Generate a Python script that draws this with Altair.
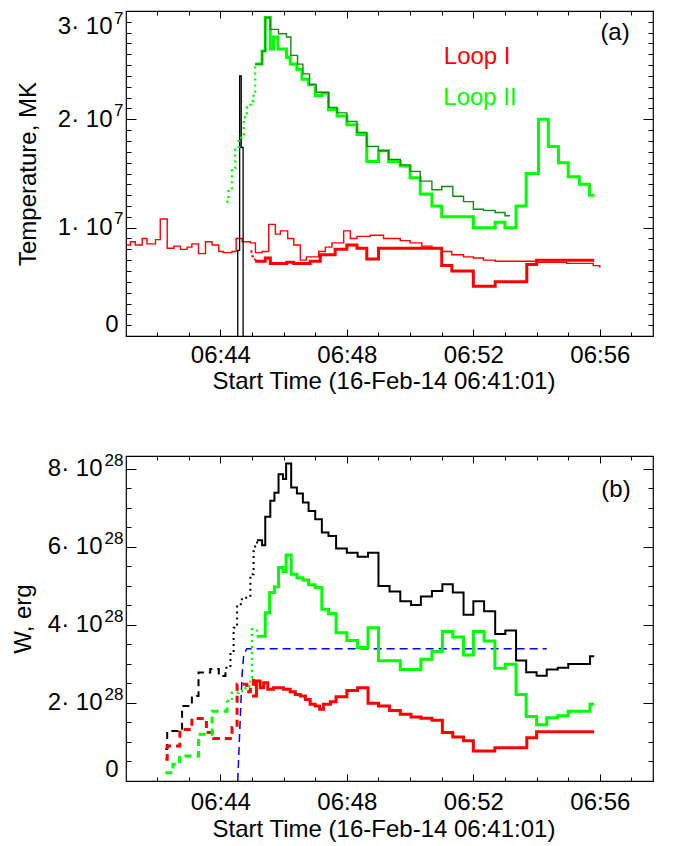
import altair as alt
import pandas as pd
from itertools import zip_longest

FONT = "Liberation Sans"
FS = 24
FS_EXP = 17

# ---------------- axes / ticks ----------------
X_DOMAIN = [41.017, 57.68]          # minutes after 06:00
X_MAJOR = [44, 48, 52, 56]
X_MINOR = [42, 43, 45, 46, 47, 49, 50, 51, 53, 54, 55, 57]
X_TITLE = "Start Time (16-Feb-14 06:41:01)"

A_Y_DOMAIN = [0, 3]                  # units of 1e7
A_Y_MAJOR = [0, 1, 2, 3]
A_Y_MINOR = [0.1, 0.2, 0.3, 0.4, 0.5, 0.6, 0.7, 0.8, 0.9,
             1.1, 1.2, 1.3, 1.4, 1.5, 1.6, 1.7, 1.8, 1.9,
             2.1, 2.2, 2.3, 2.4, 2.5, 2.6, 2.7, 2.8, 2.9]
A_Y_EXP = "7"
A_Y_TITLE = "Temperature, MK"
B_Y_DOMAIN = [0, 8.33]               # units of 1e28
B_Y_MAJOR = [0, 2, 4, 6, 8]
B_Y_MINOR = [0.5, 1, 1.5, 2.5, 3, 3.5, 4.5, 5, 5.5, 6.5, 7, 7.5]
B_Y_EXP = "28"
B_Y_TITLE = "W, erg"

# ---------------- panel (a) data ----------------
A_RED_THIN_T = [41.05, 41.16, 41.31, 41.53, 41.68, 41.95, 42.10, 42.32, 42.53, 42.74,
                42.95, 43.10, 43.31, 43.53, 43.74, 43.95, 44.10, 44.37, 44.50, 44.69,
                44.95, 45.11, 45.32, 45.53, 45.74, 45.90, 46.13, 46.32, 46.53, 46.72,
                47.11, 47.32, 47.53, 47.90, 48.11, 48.32, 48.74, 49.16, 49.69, 50.00,
                50.37, 50.69, 51.00, 51.32, 51.69, 52.00, 52.32, 52.69, 54.00, 54.32,
                54.95, 55.37, 55.79, 56.00]
A_RED_THIN_V = [0.84, 0.87, 0.84, 0.90, 0.85, 0.89, 1.08, 0.81, 0.83, 0.80,
                0.82, 0.85, 0.76, 0.87, 0.84, 0.78, 0.77, 0.78, 0.90, 0.87,
                0.86, 0.77, 0.78, 1.03, 0.94, 0.97, 0.90, 0.84, 0.70, 0.73,
                0.78, 0.82, 0.86, 0.97, 0.90, 0.92, 0.93, 0.90, 0.88, 0.86,
                0.83, 0.81, 0.78, 0.75, 0.73, 0.72, 0.70, 0.69, 0.68, 0.68,
                0.67, 0.67, 0.65, 0.63]

A_RED_DOT_T = [44.95, 45.02, 45.10]
A_RED_DOT_V = [0.78, 0.72, 0.70]
A_RED_T = [45.10, 45.42, 45.58, 46.10, 46.32, 46.84, 47.16, 47.63, 48.00, 48.32,
           48.63, 49.00, 51.00, 51.32, 52.00, 52.69, 53.69, 54.00, 55.82]
A_RED_V = [0.69, 0.72, 0.67, 0.68, 0.67, 0.69, 0.75, 0.80, 0.84, 0.81,
           0.71, 0.81, 0.65, 0.60, 0.46, 0.50, 0.66, 0.70, 0.70]

A_GREEN_DOT_T = [44.19, 44.26, 44.37, 44.47, 44.58, 44.74, 44.84, 44.95, 45.05, 45.10]
A_GREEN_DOT_V = [1.24, 1.35, 1.55, 1.72, 1.83, 2.02, 2.11, 2.17, 2.23, 2.51]
A_GREEN_T = [45.10, 45.32, 45.42, 45.58, 45.68, 45.82, 46.09, 46.21, 46.42, 46.58,
             46.79, 47.00, 47.21, 47.42, 47.69, 48.00, 48.32, 48.63, 49.00, 49.32,
             49.69, 50.00, 50.32, 50.69, 51.00, 52.00, 52.69, 53.00, 53.35, 53.67,
             54.06, 54.37, 54.69, 55.00, 55.35, 55.67, 55.83]
A_GREEN_V = [2.51, 2.63, 2.94, 2.65, 2.76, 2.65, 2.57, 2.51, 2.46, 2.37,
             2.32, 2.22, 2.24, 2.09, 2.03, 1.95, 1.86, 1.61, 1.71, 1.61,
             1.57, 1.46, 1.31, 1.20, 1.10, 1.00, 1.05, 1.00, 1.20, 1.50,
             2.00, 1.75, 1.60, 1.47, 1.40, 1.30, 1.30]

A_DKGREEN_T = [45.10, 45.32, 45.42, 45.58, 45.84, 46.09, 46.23, 46.44, 46.61, 46.82,
               47.03, 47.42, 47.69, 48.00, 48.32, 48.63, 49.00, 49.32, 49.69, 50.00,
               50.32, 50.69, 51.00, 51.35, 51.69, 52.00, 52.32, 52.69, 53.00, 53.16]
A_DKGREEN_V = [2.51, 2.63, 2.94, 2.83, 2.79, 2.76, 2.59, 2.51, 2.42, 2.32,
               2.25, 2.11, 2.06, 1.98, 1.88, 1.75, 1.71, 1.63, 1.58, 1.52,
               1.43, 1.35, 1.38, 1.29, 1.24, 1.17, 1.16, 1.14, 1.11, 1.11]

A_BLACK_T = [44.55, 44.55, 44.61, 44.61, 44.66, 44.66, 44.72, 44.72]
A_BLACK_V = [0.00, 0.79, 0.79, 2.40, 2.40, 1.74, 1.74, 0.00]

A_TEXT = ["(a)", "Loop I", "Loop II"]
A_TEXT_T = [56.48, 52.12, 52.21]
A_TEXT_V = [2.80, 2.58, 2.20]
A_TEXT_C = ["black", "#ff0000", "#00ff00"]

# ---------------- panel (b) data ----------------
B_BLACK_DASH_T = [42.26, 42.32, 42.79, 43.10, 43.31, 43.68, 43.95, 44.16]
B_BLACK_DASH_V = [0.82, 1.28, 1.92, 2.18, 2.78, 2.87, 2.69, 2.90]
B_BLACK_DOT_T = [44.16, 44.32, 44.42, 44.53, 44.68, 44.95, 45.05, 45.10, 45.16]
B_BLACK_DOT_V = [2.90, 3.33, 3.93, 4.53, 4.70, 5.30, 5.89, 6.07, 6.17]
B_BLACK_T = [45.16, 45.32, 45.42, 45.58, 45.71, 45.84, 45.98, 46.08, 46.24, 46.42,
             46.61, 46.79, 47.00, 47.21, 47.42, 47.66, 48.00, 48.34, 48.67, 49.00,
             49.35, 49.69, 50.03, 50.34, 50.69, 51.02, 51.35, 51.69, 52.00, 52.34,
             52.69, 53.01, 53.35, 53.67, 54.00, 54.32, 54.67, 55.00, 55.69, 55.82]
B_BLACK_V = [6.17, 6.04, 6.77, 7.18, 7.39, 7.86, 7.74, 8.14, 7.52, 7.37,
             7.14, 6.92, 6.71, 6.37, 6.28, 5.96, 5.85, 5.75, 5.85, 5.00,
             4.86, 4.61, 4.51, 4.73, 4.87, 5.04, 4.83, 4.26, 4.61, 4.35,
             3.77, 3.86, 3.09, 2.79, 2.70, 2.86, 2.90, 3.00, 3.20, 3.20]

B_GREEN_DASH_T = [42.26, 42.50, 42.71, 43.31, 43.74, 44.21]
B_GREEN_DASH_V = [0.21, 0.43, 0.64, 1.20, 1.79, 2.05]
B_GREEN_DOT_T = [44.21, 44.37, 44.58, 44.79, 44.95, 45.00, 45.16]
B_GREEN_DOT_V = [2.05, 2.26, 2.30, 2.43, 2.65, 3.89, 3.71]
B_GREEN_T = [45.16, 45.42, 45.56, 45.71, 45.84, 45.98, 46.08, 46.24, 46.42, 46.61,
             46.79, 47.00, 47.21, 47.42, 47.66, 48.00, 48.34, 48.67, 49.00, 49.69,
             50.34, 50.69, 51.02, 51.35, 51.69, 52.00, 52.34, 52.68, 53.01, 53.35,
             53.67, 54.00, 54.32, 54.67, 55.00, 55.69, 55.82]
B_GREEN_V = [3.71, 4.31, 4.83, 4.98, 5.47, 5.37, 5.79, 5.30, 5.21, 5.15,
             5.03, 4.96, 4.40, 4.29, 3.80, 3.60, 3.42, 3.93, 3.08, 2.86,
             3.12, 3.32, 3.83, 3.69, 3.23, 3.83, 3.59, 2.89, 2.99, 2.22,
             1.65, 1.44, 1.62, 1.67, 1.79, 1.97, 1.97]

B_RED_DASH_T = [42.26, 42.32, 42.72, 43.10, 43.56, 43.79, 44.37, 44.53, 44.84, 44.95, 45.05, 45.10]
B_RED_DASH_V = [0.56, 0.90, 1.32, 1.60, 1.24, 1.09, 1.37, 2.48, 2.29, 2.48, 2.69, 2.69]
B_RED_T = [45.00, 45.14, 45.26, 45.37, 45.50, 45.68, 46.00, 46.21, 46.37, 46.53,
           46.69, 46.84, 47.00, 47.14, 47.26, 47.48, 47.66, 48.00, 48.34, 48.67,
           49.00, 49.35, 49.69, 50.03, 50.34, 50.69, 51.02, 51.35, 51.69, 52.00,
           52.68, 53.69, 54.00, 55.82]
B_RED_V = [2.18, 2.56, 2.39, 2.52, 2.35, 2.39, 2.35, 2.29, 2.22, 2.18,
           2.09, 1.97, 1.92, 1.84, 1.97, 2.03, 2.16, 2.32, 2.39, 1.99,
           1.92, 1.81, 1.71, 1.64, 1.61, 1.56, 1.24, 1.13, 1.03, 0.77,
           0.85, 1.11, 1.26, 1.26]

B_BLUE_T = [44.55, 44.63, 44.69, 44.74, 44.84, 54.32]
B_BLUE_V = [0.00, 1.62, 2.74, 3.25, 3.39, 3.39]

B_TEXT = ["(b)"]
B_TEXT_T = [56.51]
B_TEXT_V = [7.46]
B_TEXT_C = ["black"]

# ---------------- helpers ----------------
W, H = 527, 325
XS = alt.Scale(domain=X_DOMAIN, nice=False, zero=False)
YS_A = alt.Scale(domain=A_Y_DOMAIN, nice=False, zero=False)
YS_B = alt.Scale(domain=B_Y_DOMAIN, nice=False, zero=False)

DASH = [7, 5]
DOT = [2, 4]


def line(t, v, color, width, ys, dash=None, interp="step-after"):
    df = pd.DataFrame({"t": t, "v": v, "i": list(range(len(t)))})
    kw = dict(color=color, strokeWidth=width, interpolate=interp, clip=True)
    if dash is not None:
        kw["strokeDash"] = dash
    return alt.Chart(df).mark_line(**kw).encode(
        x=alt.X("t:Q", scale=XS, axis=None),
        y=alt.Y("v:Q", scale=ys, axis=None),
        order="i:Q",
    )


def texts(labels, t, v, colors, ys):
    df = pd.DataFrame({"t": t, "v": v, "txt": labels, "c": colors})
    return alt.Chart(df).mark_text(font=FONT, fontSize=24, align="center", baseline="middle").encode(
        x=alt.X("t:Q", scale=XS, axis=None),
        y=alt.Y("v:Q", scale=ys, axis=None),
        text="txt:N",
        color=alt.Color("c:N", scale=None),
    )


TK = dict(labels=False, domain=False, grid=False, title=None,
          tickColor="black", tickWidth=1, minExtent=0)
NOTK = dict(ticks=False, tickSize=0, domain=False, grid=False, minExtent=0)


def axis_layers(ys, y_major, y_minor, exp, ytitle, ytitle_pad, base_pad,
                xlab_pad, xtitle_pad, exp_off, top_special):
    top = y_major[-1]
    mids = [v for v in y_major if v != 0 and (v != top or not top_special)]
    x_axes = [
        alt.Axis(orient="bottom", values=X_MAJOR, labelExpr="'06:' + datum.value",
                 labelPadding=xlab_pad, title=X_TITLE, titlePadding=xtitle_pad,
                 titleX=W / 2 - 6, **NOTK),
        alt.Axis(orient="bottom", values=X_MAJOR, tickSize=7, offset=-7, **TK),
        alt.Axis(orient="bottom", values=X_MINOR, tickSize=4, offset=-4, **TK),
        alt.Axis(orient="top", values=X_MAJOR, tickSize=7, offset=-7, **TK),
        alt.Axis(orient="top", values=X_MINOR, tickSize=4, offset=-4, **TK),
    ]
    y_axes = [
        alt.Axis(orient="left", values=[0], labelExpr="'0'", labelPadding=8,
                 labelBaseline="bottom", title=None, **NOTK),
        alt.Axis(orient="left", values=mids, labelExpr="datum.value + '\u00b7 10'",
                 labelPadding=base_pad, title=ytitle, titlePadding=ytitle_pad, **NOTK),
        alt.Axis(orient="left", values=mids, labelExpr="'" + exp + "'", labelPadding=3,
                 labelFontSize=FS_EXP, labelOffset=exp_off, title=None, **NOTK),
        alt.Axis(orient="left", values=y_major, tickSize=10, offset=-10, **TK),
        alt.Axis(orient="left", values=y_minor, tickSize=5, offset=-5, **TK),
        alt.Axis(orient="right", values=y_major, tickSize=10, offset=-10, **TK),
        alt.Axis(orient="right", values=y_minor, tickSize=5, offset=-5, **TK),
    ]
    if top_special:
        y_axes += [
            alt.Axis(orient="left", values=[top], labelExpr="datum.value + '\u00b7 10'",
                     labelPadding=base_pad, labelBaseline="top", labelOffset=3,
                     title=None, **NOTK),
            alt.Axis(orient="left", values=[top], labelExpr="'" + exp + "'", labelPadding=3,
                     labelFontSize=FS_EXP, labelBaseline="top", labelOffset=-1,
                     title=None, **NOTK),
        ]
    dummy = pd.DataFrame({"t": [X_DOMAIN[0]], "v": [0.0]})
    out = []
    for xa, ya in zip_longest(x_axes, y_axes):
        out.append(alt.Chart(dummy).mark_point(opacity=0, size=1).encode(
            x=alt.X("t:Q", scale=XS, axis=xa),
            y=alt.Y("v:Q", scale=ys, axis=ya),
        ))
    return out


# ---------------- panel (a) ----------------
layers_a = [
    line(A_RED_THIN_T, A_RED_THIN_V, "#ff0000", 1.4, YS_A),
    line(A_RED_DOT_T, A_RED_DOT_V, "#ff0000", 2.5, YS_A, dash=DOT),
    line(A_RED_T, A_RED_V, "#ff0000", 3, YS_A),
    line(A_BLACK_T, A_BLACK_V, "black", 1.3, YS_A, interp="linear"),
    line(A_GREEN_DOT_T, A_GREEN_DOT_V, "#00ff00", 2.5, YS_A, dash=DOT),
    line(A_GREEN_T, A_GREEN_V, "#00ff00", 3, YS_A),
    line(A_DKGREEN_T, A_DKGREEN_V, "#128a12", 1.4, YS_A),
    texts(A_TEXT, A_TEXT_T, A_TEXT_V, A_TEXT_C, YS_A),
]
panel_a = alt.layer(
    *layers_a,
    *axis_layers(YS_A, A_Y_MAJOR, A_Y_MINOR, A_Y_EXP, A_Y_TITLE, 17, 14,
                 7, 2, -9, True),
).resolve_axis(x="independent", y="independent").properties(width=W, height=H)

# ---------------- panel (b) ----------------
layers_b = [
    line(B_BLUE_T, B_BLUE_V, "#0000ff", 1.5, YS_B, dash=[8, 5], interp="linear"),
    line(B_BLACK_DASH_T, B_BLACK_DASH_V, "black", 2, YS_B, dash=DASH),
    line(B_BLACK_DOT_T, B_BLACK_DOT_V, "black", 2, YS_B, dash=DOT),
    line(B_BLACK_T, B_BLACK_V, "black", 2, YS_B),
    line(B_RED_DASH_T, B_RED_DASH_V, "#ff0000", 3, YS_B, dash=DASH),
    line(B_RED_T, B_RED_V, "#ff0000", 3, YS_B),
    line(B_GREEN_DASH_T, B_GREEN_DASH_V, "#00ff00", 3, YS_B, dash=DASH),
    line(B_GREEN_DOT_T, B_GREEN_DOT_V, "#00ff00", 2.5, YS_B, dash=DOT),
    line(B_GREEN_T, B_GREEN_V, "#00ff00", 3, YS_B),
    texts(B_TEXT, B_TEXT_T, B_TEXT_V, B_TEXT_C, YS_B),
]
panel_b = alt.layer(
    *layers_b,
    *axis_layers(YS_B, B_Y_MAJOR, B_Y_MINOR, B_Y_EXP, B_Y_TITLE, 12, 24,
                 9, 3, -8, False),
).resolve_axis(x="independent", y="independent").properties(width=W, height=H)

chart = alt.vconcat(panel_a, panel_b, spacing=57).properties(
    padding={"left": 2, "top": 0, "right": 5, "bottom": 0}
).configure_view(stroke="black", strokeWidth=1.2).configure_axis(
    labelFont=FONT, labelFontSize=FS, labelColor="black",
    titleFont=FONT, titleFontSize=FS, titleFontWeight="normal", titleColor="black",
)

chart.save("out.html", embed_options={"renderer": "svg", "actions": False})
